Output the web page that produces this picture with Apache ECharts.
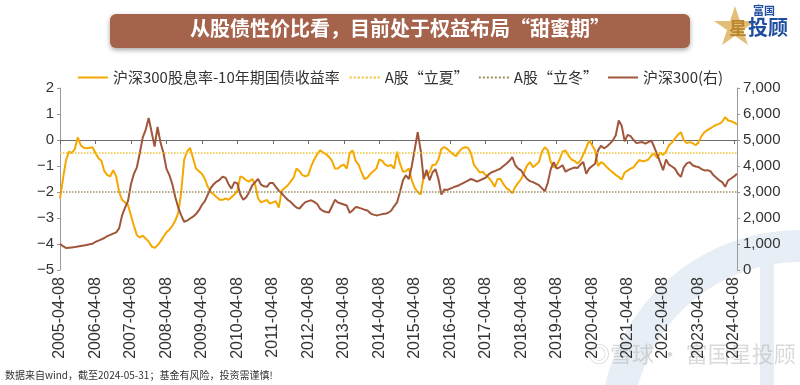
<!DOCTYPE html>
<html>
<head>
<meta charset="utf-8">
<script src="https://cdn.jsdelivr.net/npm/echarts@6/dist/echarts.min.js"></script>
<style>html,body{margin:0;padding:0;background:#fff;}#c{width:800px;height:385px;}</style>
</head>
<body>
<div id="c"></div>
<script>
// ---- data ----
var titleText = '从股债性价比看，目前处于权益布局“甜蜜期”';
var footText = '数据来自wind，截至2024-05-31；基金有风险，投资需谨慎!';
var seriesNames = ['沪深300股息率-10年期国债收益率', 'A股“立夏”', 'A股“立冬”', '沪深300(右)'];
var startYear = 2005, startMonth = 4, monthCount = 230; // monthly 2005-04 .. 2024-05
var categories = [];
for (var k = 0; k < monthCount; k++) {
  var m = startMonth - 1 + k;
  var yy = startYear + Math.floor(m / 12), mm = (m % 12) + 1;
  categories.push(yy + '-' + (mm < 10 ? '0' + mm : mm) + '-08');
}
var summerLevel = -0.5;
var winterLevel = -2;
var spreadValues = [
-2.25,-1.5,-0.8,-0.45,-0.5,-0.35,0.1,-0.2,-0.3,-0.32,-0.3,-0.28,
-0.5,-0.7,-0.8,-1.2,-1.35,-1.4,-1.16,-1.4,-2.0,-2.3,-2.4,-2.5,
-2.9,-3.3,-3.66,-3.75,-3.68,-3.8,-3.9,-4.1,-4.15,-4.05,-3.9,-3.72,
-3.55,-3.45,-3.3,-3.1,-2.8,-2.0,-0.75,-0.45,-0.3,-0.7,-1.1,-1.2,
-1.3,-1.5,-1.8,-2.0,-2.1,-2.2,-2.3,-2.3,-2.25,-2.3,-2.2,-2.1,
-1.95,-1.4,-1.45,-1.55,-1.6,-1.5,-1.7,-2.25,-2.4,-2.35,-2.3,-2.45,
-2.4,-2.35,-2.6,-1.95,-1.85,-1.75,-1.6,-1.45,-1.1,-1.2,-1.35,-1.4,
-1.35,-1.0,-0.75,-0.55,-0.4,-0.48,-0.55,-0.65,-0.8,-1.1,-1.1,-1.0,
-0.95,-1.1,-0.5,-0.4,-0.8,-0.95,-1.25,-1.5,-1.45,-1.3,-1.2,-1.1,
-0.75,-0.8,-0.95,-1.0,-0.96,-1.1,-0.45,-0.9,-1.22,-1.2,-1.1,-1.55,
-1.85,-2.0,-2.1,-1.4,-1.35,-1.25,-0.96,-0.95,-0.75,-0.35,-0.27,-0.35,
-0.45,-0.55,-0.62,-0.45,-0.32,-0.28,-0.3,-0.5,-0.95,-1.1,-1.25,-1.22,
-1.35,-1.45,-1.6,-1.8,-1.5,-1.5,-1.7,-1.85,-1.93,-2.05,-1.8,-1.65,
-1.5,-1.25,-0.98,-0.85,-1.05,-0.95,-0.85,-0.45,-0.28,-0.4,-0.85,-1.05,
-0.98,-0.75,-0.45,-0.4,-0.6,-0.75,-0.8,-0.9,-0.8,-0.55,-0.3,-0.02,
-0.2,-0.4,-1.0,-0.85,-0.92,-1.05,-1.15,-1.25,-1.35,-1.42,-1.52,-1.25,
-1.18,-1.1,-1.05,-0.9,-0.77,-0.82,-0.8,-0.75,-0.6,-0.52,-0.7,-0.48,
-0.58,-0.45,-0.2,-0.1,0.05,0.2,0.3,0.0,-0.12,-0.08,-0.12,-0.2,
-0.08,0.15,0.3,0.38,0.45,0.52,0.58,0.62,0.7,0.88,0.75,0.72,
0.68,0.6
];
var csi300Values = [
1000,920,850,860,870,880,900,920,940,960,990,1010,
1080,1130,1180,1230,1300,1350,1400,1450,1600,2100,2400,2650,
3300,3700,3950,4500,5100,5400,5850,5300,4750,5500,4900,4500,
3900,3650,3300,2800,2400,2100,1850,1900,1980,2050,2150,2300,
2500,2650,2900,3150,3300,3400,3470,3590,3550,3300,3130,3380,
3330,2900,2700,2800,3000,3250,3380,3500,3280,3220,3200,3350,
3350,3200,3050,2950,2820,2700,2620,2500,2400,2360,2500,2610,
2650,2680,2620,2540,2350,2270,2230,2210,2450,2700,2600,2560,
2520,2480,2200,2300,2420,2400,2360,2320,2290,2180,2130,2100,
2120,2150,2160,2200,2280,2450,2600,3000,3450,3640,3500,4000,
4650,5300,4600,3500,3850,3450,3750,3880,3500,2900,3100,3080,
3130,3180,3220,3260,3320,3380,3440,3500,3460,3400,3450,3500,
3550,3680,3760,3800,3850,3900,4000,4090,4200,4340,4030,3900,
3830,3650,3500,3420,3380,3320,3260,3150,3030,3350,3880,4150,
3900,3950,4030,3780,3850,3900,3940,3920,4050,4150,3700,3900,
4000,4090,4600,4780,4680,4750,4860,4980,5180,5750,5550,4950,
5200,5150,5000,4880,4900,4920,4860,4920,4980,4730,4450,4150,
3840,4250,4050,3980,3900,3700,3580,3950,4100,4150,4030,3980,
3960,3880,3830,3840,3800,3650,3550,3450,3380,3200,3450,3520,
3600,3700
];
var leftTicks = {min: -5, max: 2, interval: 1};
var rightTicks = {min: 0, max: 7000, interval: 1000};

// ---- chart ----
var FONT = '"Liberation Sans","Noto Sans CJK SC",sans-serif';
var CJK = '"Noto Sans CJK SC",sans-serif';
var chart = echarts.init(document.getElementById('c'), null, {renderer: 'canvas'});
function yearTick(idx, val) { return val.slice(5) === '04-08'; }
function minus(v) { return String(v).replace('-', '\u2212'); }

var option = {
  animation: false,
  backgroundColor: '#ffffff',
  textStyle: {fontFamily: FONT},
  graphic: [
    // pale watermark shapes (behind)
    {type: 'sector', silent: true, z: -10,
      shape: {cx: 800, cy: 430, r: 200, r0: 168, startAngle: Math.PI * 1.02, endAngle: Math.PI * 1.62},
      style: {fill: '#E8EEF5'}},
    {type: 'rect', silent: true, z: -10, shape: {x: 760, y: 240, width: 14, height: 145}, style: {fill: '#E8EEF5'}},
    {type: 'text', silent: true, z: -9, left: 588, top: 343,
      style: {text: '◎雪球 · 富国星投顾', fill: 'rgba(170,170,170,0.45)', font: '22px "Noto Sans CJK SC"'}},
    // title box
    {type: 'rect', shape: {x: 110, y: 14, width: 580, height: 34, r: 6},
      style: {fill: '#A5634B', shadowBlur: 5, shadowOffsetY: 2, shadowColor: 'rgba(0,0,0,0.35)'}},
    {type: 'text', left: 'center', top: 18,
      style: {text: titleText, fill: '#ffffff', font: 'bold 20px "Noto Sans CJK SC"'}},
    // logo
    {type: 'polygon', shape: {points: [[735,6],[740,21],[756,21],[743,30],[748,45],[735,36],[722,45],[727,30],[714,21],[730,21]]},
      style: {fill: '#E3BE78'}},
    {type: 'text', left: 729, top: 19, style: {text: '星', fill: '#B8862F', font: 'bold 18px "Noto Sans CJK SC"'}},
    {type: 'text', left: 753, top: 5, style: {text: '富国', fill: '#1F4E9E', font: 'bold 11px "Noto Sans CJK SC"'}},
    {type: 'text', left: 748, top: 17, style: {text: '投顾', fill: '#1F4E9E', font: 'bold 20px "Noto Sans CJK SC"'}},
    // footer
    {type: 'text', left: 5, top: 370, style: {text: footText, fill: '#333', font: '10px "Noto Sans CJK SC"'}}
  ],
  legend: {
    top: 65, left: 'center',
    itemWidth: 30, itemHeight: 14, itemGap: 9,
    itemStyle: {opacity: 0},
    textStyle: {fontSize: 15, color: '#333', fontFamily: CJK},
    data: seriesNames
  },
  grid: {left: 60, right: 63, top: 88, bottom: 115, containLabel: false},
  xAxis: [
    {type: 'category', data: categories, boundaryGap: false, position: 'bottom',
      axisLine: {show: false, onZero: false}, axisTick: {show: false},
      axisLabel: {interval: yearTick, rotate: 90, fontSize: 16, color: '#333', margin: 7, fontFamily: FONT}},
    {type: 'category', data: categories, boundaryGap: false, position: 'bottom',
      axisLine: {show: true, onZero: true, onZeroAxisIndex: 0, lineStyle: {color: '#6b6b6b', width: 1}},
      axisTick: {show: true, interval: yearTick, length: 4, lineStyle: {color: '#6b6b6b'}},
      axisLabel: {show: false}}
  ],
  yAxis: [
    {type: 'value', min: leftTicks.min, max: leftTicks.max, interval: leftTicks.interval, position: 'left',
      splitLine: {show: false},
      axisLine: {show: true, lineStyle: {color: '#9a9a9a'}},
      axisTick: {show: true, length: 3, lineStyle: {color: '#9a9a9a'}},
      axisLabel: {fontSize: 15, color: '#333', margin: 6, formatter: minus}},
    {type: 'value', min: rightTicks.min, max: rightTicks.max, interval: rightTicks.interval, position: 'right',
      splitLine: {show: false},
      axisLine: {show: true, lineStyle: {color: '#9a9a9a'}},
      axisTick: {show: true, length: 3, lineStyle: {color: '#9a9a9a'}},
      axisLabel: {fontSize: 15, color: '#333', margin: 6,
        formatter: function (v) { return String(v).replace(/\B(?=(\d{3})+(?!\d))/g, ','); }}}
  ],
  series: [
    {name: seriesNames[0], type: 'line', xAxisIndex: 0, yAxisIndex: 0, data: spreadValues,
      symbol: 'none', color: '#F5A800', lineStyle: {width: 2, color: '#F5A800'}, z: 3},
    {name: seriesNames[1], type: 'line', xAxisIndex: 0, yAxisIndex: 0, data: [],
      symbol: 'none', color: '#F2C232', lineStyle: {width: 1.5, type: 'dotted', color: '#F2C232'},
      markLine: {silent: true, symbol: 'none', label: {show: false},
        lineStyle: {width: 1.5, type: 'dotted', color: '#F2C232'}, data: [{yAxis: summerLevel}]}},
    {name: seriesNames[2], type: 'line', xAxisIndex: 0, yAxisIndex: 0, data: [],
      symbol: 'none', color: '#A08E5A', lineStyle: {width: 1.5, type: 'dotted', color: '#A08E5A'},
      markLine: {silent: true, symbol: 'none', label: {show: false},
        lineStyle: {width: 1.5, type: 'dotted', color: '#A08E5A'}, data: [{yAxis: winterLevel}]}},
    {name: seriesNames[3], type: 'line', xAxisIndex: 0, yAxisIndex: 1, data: csi300Values,
      symbol: 'none', color: '#A0563B', lineStyle: {width: 2, color: '#A0563B'}, z: 4}
  ]
};
chart.setOption(option);
</script>
</body>
</html>
